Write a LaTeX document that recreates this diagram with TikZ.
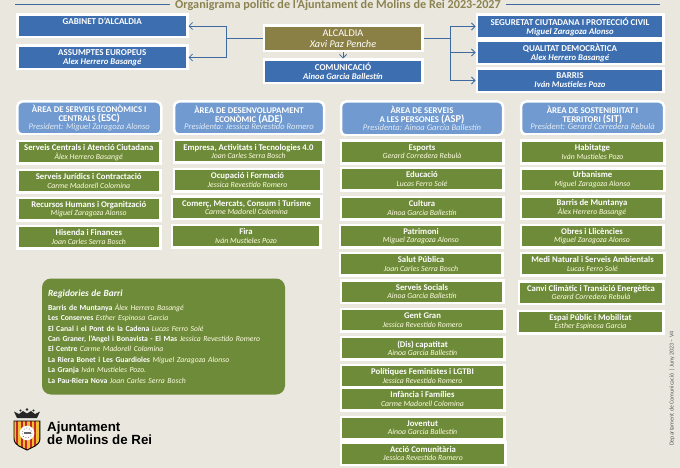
\documentclass[tikz,border=0pt]{standalone}
\usepackage{fontspec}
\setmainfont{Carlito}
\newfontfamily\logofont{Liberation Sans}
\usepackage{tikz}
\usetikzlibrary{arrows.meta,shadows}
\definecolor{orgpaper}{RGB}{233,231,222}
\definecolor{orgblue}{RGB}{60,110,176}
\definecolor{orgarea}{RGB}{112,154,208}
\definecolor{orggold}{RGB}{138,128,70}
\definecolor{orggreen}{RGB}{110,139,58}
\definecolor{orgtitle}{RGB}{140,131,82}
\definecolor{orgline}{RGB}{62,106,160}
\definecolor{orgred}{RGB}{196,40,40}
\definecolor{orgyellow}{RGB}{240,190,50}
\tikzstyle{framed} = [rectangle, draw=white, line width=2.5pt, inner sep=0pt, text=white, align=center, drop shadow={shadow xshift=0.6pt, shadow yshift=-1.2pt, fill=black, opacity=0.35}]
\tikzstyle{topbox} = [framed, fill=orgblue, font=\fontsize{9}{9}\selectfont]
\tikzstyle{chiefbox} = [framed, fill=orggold, font=\fontsize{10.3}{10.5}\selectfont]
\tikzstyle{areabox} = [framed, fill=orgarea, rounded corners=5pt, font=\fontsize{8.8}{7.8}\selectfont]
\tikzstyle{taskbox} = [framed, fill=orggreen, minimum height=22.5pt, font=\fontsize{8.7}{8.4}\selectfont]
\tikzstyle{arrow} = [line width=0.8pt,->,>={Straight Barb[length=3.5pt,width=7pt]},color=orgline]
\tikzstyle{rule} = [line width=1pt,color=orgline]
\newcommand{\duty}[2]{{\bfseries #1}\\{\fontsize{7.8}{8}\selectfont\itshape\color{white!88!yellow}#2}}
\newcommand{\post}[2]{{\bfseries #1}\\{\fontsize{8.7}{8}\selectfont\bfseries\itshape #2}}
\newcommand{\area}[3]{{\bfseries #1}\\{\bfseries #2}\\{\fontsize{8.6}{8}\selectfont\itshape\color{white!80!orgarea}#3}}
\newcommand{\bigtag}[1]{{\fontsize{10.5}{8}\selectfont #1}}
\newcommand{\barri}[2]{{\bfseries #1} {\itshape\color{white!88!yellow}#2}\\}

\begin{document}
\begin{tikzpicture}[x=1pt,y=-1pt]
\fill[orgpaper] (0,0) rectangle (680,468);
\useasboundingbox (0,0) rectangle (680,468);
% title
\node[text=orgtitle, font=\fontsize{12.2}{12}\selectfont\bfseries, inner sep=0pt] (title) at (338,5) {Organigrama polític de l’Ajuntament de Molins de Rei 2023-2027};
\coordinate (ruleleft) at (15,5);
\coordinate (ruleright) at (660,5);
\draw[rule] (title.west) ++(-5,0) -- (ruleleft);
\draw[rule] (title.east) ++(5,0) -- (ruleright);
% government
\node[topbox, minimum width=170pt, minimum height=22.5pt] (gabinet) at (102.25,26) {\post{GABINET D’ALCALDIA}{~}};
\node[topbox, minimum width=170pt, minimum height=23.5pt] (europa) at (102.25,57.5) {\post{ASSUMPTES EUROPEUS}{Alex Herrero Basangé}};
\node[chiefbox, minimum width=158.5pt, minimum height=25.5pt] (alcaldia) at (343,38.5) {ALCALDIA\\{\itshape Xavi Paz Penche}};
\node[topbox, minimum width=158.5pt, minimum height=23.5pt] (comunica) at (343,71.5) {\post{COMUNICACIÓ}{Ainoa Garcia Ballestín}};
\node[topbox, minimum width=186.5pt, minimum height=23.5pt] (seguretat) at (570,26.5) {\post{SEGURETAT CIUTADANA I PROTECCIÓ CIVIL}{Miguel Zaragoza Alonso}};
\node[topbox, minimum width=186.5pt, minimum height=23.5pt] (qualitat) at (570,52.5) {\post{QUALITAT DEMOCRÀTICA}{Alex Herrero Basangé}};
\node[topbox, minimum width=186.5pt, minimum height=23.5pt] (barris) at (570,80.5) {\post{BARRIS}{Iván Mustieles Pozo}};
\coordinate (leftbus) at (226,38.5);
\coordinate (rightbus) at (450,38.5);
\draw[arrow] (alcaldia) -- (leftbus) |- (gabinet);
\draw[arrow] (leftbus) |- (europa);
\draw[arrow] (alcaldia) -- (rightbus) |- (seguretat);
\draw[arrow] (rightbus) |- (qualitat);
\draw[arrow] (rightbus) |- (barris);
\draw[arrow] (alcaldia) -- (comunica);
% areas
\node[areabox, minimum width=144pt, minimum height=33pt] (esc) at (89.25,118) {\area{ÀREA DE SERVEIS ECONÒMICS I}{CENTRALS \bigtag{(ESC)}}{President: Miguel Zaragoza Alonso}};
\node[areabox, minimum width=150pt, minimum height=33pt] (ade) at (249,118) {\area{ÀREA DE  DESENVOLUPAMENT}{ECONÒMIC  \bigtag{(ADE)}}{Presidenta: Jessica Revestido Romero}};
\node[areabox, minimum width=162pt, minimum height=34pt] (asp) at (422,118.5) {\area{ÀREA DE SERVEIS}{A LES PERSONES \bigtag{(ASP)}}{Presidenta: Ainoa Garcia Ballestín}};
\node[areabox, minimum width=143pt, minimum height=33pt] (sit) at (592.5,118) {\area{ÀREA DE SOSTENIBIITAT I}{TERRITORI \bigtag{(SIT)}}{President: Gerard Corredera Rebulà}};
% column ESC
\node[taskbox, minimum width=143pt] (esc1) at (88.75,152.5) {\duty{Serveis Centrals i Atenció Ciutadana}{Àlex Herrero Basangé}};
\node[taskbox, minimum width=143pt] (esc2) at (88.75,181) {\duty{Serveis Jurídics i Contractació}{Carme Madorell  Colomina}};
\node[taskbox, minimum width=143pt] (esc3) at (88.75,209) {\duty{Recursos Humans i Organització}{Miguel Zaragoza Alonso}};
\node[taskbox, minimum width=143pt] (esc4) at (88.75,237) {\duty{Hisenda i Finances}{Joan Carles Serra Bosch}};
% column ADE
\node[taskbox, minimum width=149.5pt] (ade1) at (248.5,151.5) {\duty{Empresa, Activitats i Tecnologies 4.0}{Joan Carles Serra Bosch}};
\node[taskbox, minimum width=147.5pt] (ade2) at (247.5,180) {\duty{Ocupació i Formació}{Jessica Revestido Romero}};
\node[taskbox, minimum width=149.5pt] (ade3) at (246.5,207.5) {\duty{Comerç, Mercats, Consum i Turisme}{Carme Madorell Colomina}};
\node[taskbox, minimum width=148.5pt] (ade4) at (246,236) {\duty{Fira}{Iván Mustieles Pozo}};
% column ASP
\node[taskbox, minimum width=162.5pt] (asp1) at (422,152) {\duty{Esports}{Gerard Corredera Rebulà}};
\node[taskbox, minimum width=162.5pt] (asp2) at (422,179) {\duty{Educació}{Lucas Ferro Solé}};
\node[taskbox, minimum width=162.5pt] (asp3) at (422,208) {\duty{Cultura}{Ainoa Garcia Ballestín}};
\node[taskbox, minimum width=162.5pt] (asp4) at (421,236) {\duty{Patrimoni}{Miguel Zaragoza Alonso}};
\node[taskbox, minimum width=162.5pt] (asp5) at (421,264) {\duty{Salut Pública}{Joan Carles Serra Bosch}};
\node[taskbox, minimum width=162.5pt] (asp6) at (422,291.5) {\duty{Serveis  Socials}{Ainoa Garcia Ballestín}};
\node[taskbox, minimum width=163.5pt] (asp7) at (422.5,320) {\duty{Gent Gran}{Jessica Revestido Romero}};
\node[taskbox, minimum width=163.5pt] (asp8) at (422.5,348) {\duty{(Dis) capatitat}{Ainoa Garcia Ballestín}};
\node[taskbox, minimum width=163.5pt] (asp10) at (422.5,399) {\duty{Infància i Famílies}{Carme Madorell Colomina}};
\node[taskbox, minimum width=163.5pt] (asp9) at (422.5,376) {\duty{Polítiques Feministes i LGTBI}{Jessica Revestido Romero}};
\node[taskbox, minimum width=163.5pt] (asp11) at (422.5,428) {\duty{Joventut}{Ainoa Garcia Ballestín}};
\node[taskbox, minimum width=164.5pt] (asp12) at (423,453.5) {\duty{Acció Comunitària}{Jessica Revestido Romero}};
% column SIT
\node[taskbox, minimum width=143.5pt] (sit1) at (592.5,152) {\duty{Habitatge}{Iván Mustieles Pozo}};
\node[taskbox, minimum width=143.5pt] (sit2) at (592.5,179.5) {\duty{Urbanisme}{Miguel Zaragoza Alonso}};
\node[taskbox, minimum width=142.5pt] (sit3) at (592,207.5) {\duty{Barris de Muntanya}{Àlex Herrero Basangé}};
\node[taskbox, minimum width=142.5pt] (sit4) at (592,236) {\duty{Obres i Llicències}{Miguel Zaragoza Alonso}};
\node[taskbox, minimum width=143.5pt] (sit5) at (592.5,264) {\duty{Medi Natural i Serveis Ambientals}{Lucas Ferro Solé}};
\node[taskbox, minimum width=144.5pt] (sit6) at (591,292.5) {\duty{Canvi Climàtic i Transició Energètica}{Gerard Corredera Rebulà}};
\node[taskbox, minimum width=145.5pt] (sit7) at (590.5,322) {\duty{Espai Públic  i Mobilitat}{Esther Espinosa Garcia}};
% neighbourhoods
\node[rectangle, rounded corners=9pt, fill=orggreen, text=white, inner sep=6pt, text width=231pt, minimum height=116pt, align=left, font=\fontsize{7.7}{10.45}\selectfont] (regidories) at (163.5,336.5) {{\bfseries\itshape\fontsize{9.4}{13.5}\selectfont Regidories de Barri}\\[3.5pt]
\barri{Barris de Muntanya}{Àlex Herrero Basangé}
\barri{Les Conserves}{Esther Espinosa Garcia}
\barri{El Canal i el Pont de la Cadena}{Lucas Ferro Solé}
\barri{Can Graner, l’Angel i  Bonavista - El Mas}{Jessica Revestido Romero}
\barri{El Centre}{Carme Madorell Colomina}
\barri{La Riera Bonet i Les Guardioles}{Miguel Zaragoza Alonso}
\barri{La Granja}{Iván Mustieles Pozo.}
{\bfseries La Pau-Riera Nova} {\itshape\color{white!88!yellow}Joan Carles Serra Bosch}};
% logo
\begin{scope}
\clip (14,421) -- (40,421) -- (40,438) .. controls (40,446) and (32,447) .. (27,450) .. controls (22,447) and (14,446) .. (14,438) -- cycle;
\fill[orgyellow] (14,421) rectangle (40,450);
\foreach \xs in {16,20.5,25,29.5,34,38.5}
  \fill[orgred] (\xs,421) rectangle ++(2.2,29);
\end{scope}
\draw[black, line width=0.9pt] (14,421) -- (40,421) -- (40,438) .. controls (40,446) and (32,447) .. (27,450) .. controls (22,447) and (14,446) .. (14,438) -- cycle;
\fill[white] (27,433) circle (7.3);
\draw[gray, line width=0.8pt, dotted] (27,433) circle (5);
\fill[gray!80!black] (23.5,432.2) rectangle (30.5,433.8);
\fill[black!85] (14,411.5) -- (19,414) -- (23,411) -- (27,413.5) -- (31,411) -- (35,414) -- (40,411.5) -- (37,418) -- (17,418) -- cycle;
\fill[black!85] (27,409.5) circle (1.4) (20.5,410.5) circle (1.2) (33.5,410.5) circle (1.2);
\node[inner sep=0pt, anchor=west, align=left, font=\fontsize{13.3}{13.4}\logofont\bfseries] (logotext) at (47,433.5) {Ajuntament\\de Molins de Rei};
% footnote
\node[rotate=90, inner sep=0pt, text=black!65, font=\fontsize{6}{6}\selectfont] (peu) at (672,388.5) {Departament de Comunicació  |  Juny 2023 – V4};
\end{tikzpicture}
\end{document}
